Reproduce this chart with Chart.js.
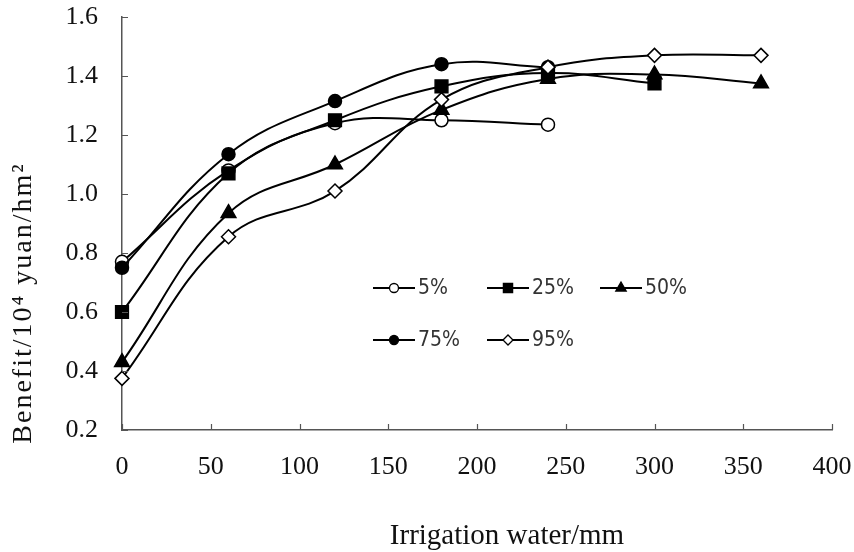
<!DOCTYPE html>
<html>
<head>
<meta charset="utf-8">
<script src="https://cdn.jsdelivr.net/npm/chart.js@4.4.0/dist/chart.umd.min.js"></script>
<style>
  html, body { margin: 0; padding: 0; background: #fff; }
  #wrap { width: 854px; height: 552px; position: relative; }
</style>
</head>
<body>
<div id="wrap"><canvas id="c" width="854" height="552"></canvas></div>
<script>
// ---- data ----
const irrigation = [0, 60, 120, 180, 240, 300, 360];
const seriesNames = ["5%", "25%", "50%", "75%", "95%"];
const p5  = [0.77, 1.08, 1.24, 1.25, 1.235];
const p25 = [0.60, 1.07, 1.25, 1.365, 1.41, 1.375];
const p50 = [0.43, 0.935, 1.10, 1.285, 1.39, 1.405, 1.375];
const p75 = [0.75, 1.135, 1.315, 1.44, 1.43];
const p95 = [0.375, 0.855, 1.01, 1.32, 1.43, 1.47, 1.47];
const xTicks = [0, 50, 100, 150, 200, 250, 300, 350, 400];
const yTicks = [0.2, 0.4, 0.6, 0.8, 1.0, 1.2, 1.4, 1.6];
const xTitle = "Irrigation water/mm";
const yTitle = "Benefit/10\u2074 yuan/hm\u00B2";

const toPts = arr => arr.map((v, i) => ({ x: irrigation[i], y: v }));

const styles = [
  { pointStyle: 'circle',   radius: 6.5, fill: '#fff', lr: 4.5 },
  { pointStyle: 'rect',     radius: 9,   fill: '#000', lr: 6.5 },
  { pointStyle: 'triangle', radius: 8.5, fill: '#000', lr: 6 },
  { pointStyle: 'circle',   radius: 6.5, fill: '#000', lr: 4.5 },
  { pointStyle: 'rectRot',  radius: 7,   fill: '#fff', lr: 5 }
];
const values = [p5, p25, p50, p75, p95];

const datasets = values.map((arr, i) => ({
  label: seriesNames[i],
  data: toPts(arr),
  order: values.length - 1 - i,
  borderColor: '#000',
  borderWidth: 2,
  tension: 0.4,
  pointStyle: styles[i].pointStyle,
  pointRadius: styles[i].radius,
  pointHoverRadius: styles[i].radius,
  pointBackgroundColor: styles[i].fill,
  pointBorderColor: '#000',
  pointBorderWidth: 1.5,
  clip: false
}));

const SERIF = '"Liberation Serif", "DejaVu Serif", serif';
const NARROW = '"Liberation Sans Narrow", "DejaVu Sans Condensed", "Liberation Sans", sans-serif';

const decor = {
  id: 'decor',
  afterDraw(chart) {
    const ctx = chart.ctx;
    const xs = chart.scales.x, ys = chart.scales.y;
    const area = chart.chartArea;
    ctx.save();
    // inward tick marks
    ctx.strokeStyle = '#555';
    ctx.lineWidth = 1.2;
    ctx.beginPath();
    yTicks.forEach(v => {
      const py = Math.round(ys.getPixelForValue(v)) + 0.5;
      ctx.moveTo(area.left, py); ctx.lineTo(area.left + 6, py);
    });
    xTicks.forEach(v => {
      const px = Math.round(xs.getPixelForValue(v)) + 0.5;
      ctx.moveTo(px, area.bottom); ctx.lineTo(px, area.bottom - 6);
    });
    ctx.stroke();

    // legend (inside plot)
    const legendPos = [[373, 288], [487, 288], [600, 288], [373, 340], [487, 340]];
    ctx.font = '21px ' + NARROW;
    ctx.textBaseline = 'middle';
    ctx.textAlign = 'left';
    seriesNames.forEach((name, i) => {
      const [lx, ly] = legendPos[i];
      ctx.strokeStyle = '#000';
      ctx.lineWidth = 2;
      ctx.beginPath();
      ctx.moveTo(lx, ly); ctx.lineTo(lx + 42, ly);
      ctx.stroke();
      ctx.fillStyle = styles[i].fill;
      ctx.strokeStyle = '#000';
      ctx.lineWidth = 1.3;
      Chart.helpers.drawPoint(ctx, { pointStyle: styles[i].pointStyle, radius: styles[i].lr, rotation: 0, borderWidth: 1.3 }, lx + 21, ly);
      ctx.fillStyle = '#333';
      ctx.fillText(name, lx + 45, ly + 1);
    });

    // axis titles
    ctx.fillStyle = '#111';
    ctx.font = '29px ' + SERIF;
    ctx.textAlign = 'center';
    ctx.textBaseline = 'middle';
    ctx.fillText(xTitle, 507, 536);
    ctx.save();
    ctx.translate(24, 303);
    ctx.rotate(-Math.PI / 2);
    ctx.font = '28px ' + SERIF;
    try { ctx.letterSpacing = '2px'; } catch (e) {}
    ctx.fillText(yTitle, 0, 0);
    ctx.restore();
    ctx.restore();
  }
};

new Chart(document.getElementById('c'), {
  type: 'line',
  data: { datasets },
  options: {
    responsive: false,
    maintainAspectRatio: false,
    animation: false,
    devicePixelRatio: 1,
    layout: { padding: { top: 17, right: 22, left: 0, bottom: 0 } },
    plugins: { legend: { display: false }, tooltip: { enabled: false } },
    scales: {
      x: {
        type: 'linear',
        min: 0, max: 400,
        afterBuildTicks: s => { s.ticks = xTicks.map(v => ({ value: v })); },
        afterFit: s => { s.height = 122; s.paddingLeft = 0; s.paddingRight = 0; },
        grid: { drawOnChartArea: false, drawTicks: false },
        border: { display: true, color: '#555', width: 1.5 },
        ticks: { color: '#111', padding: 22, maxRotation: 0, autoSkip: false, font: { family: SERIF, size: 26 } }
      },
      y: {
        type: 'linear',
        min: 0.2, max: 1.6,
        afterBuildTicks: s => { s.ticks = yTicks.map(v => ({ value: v })); },
        afterFit: s => { s.width = 122; s.paddingTop = 0; s.paddingBottom = 0; },
        grid: { drawOnChartArea: false, drawTicks: false },
        border: { display: true, color: '#555', width: 1.5 },
        ticks: { color: '#111', padding: 24, autoSkip: false, font: { family: SERIF, size: 26 }, callback: v => Number(v).toFixed(1) }
      }
    }
  },
  plugins: [decor]
});
</script>
</body>
</html>
